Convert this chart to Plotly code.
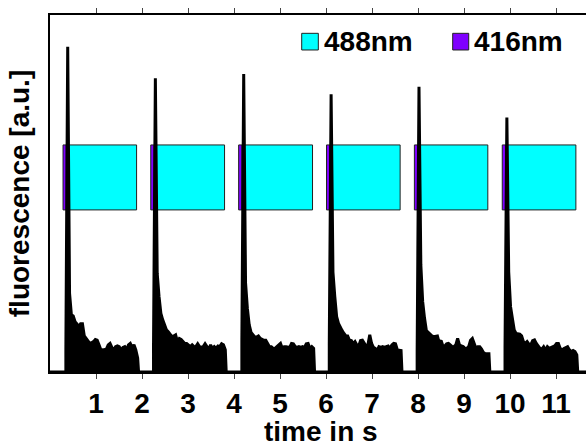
import plotly.graph_objects as go

# Flash timing (s) and peak fluorescence of each 416 nm-induced spike
spike_times = [0.385, 2.29, 4.21, 6.11, 8.02, 9.93]
spike_peaks = [91.1, 82.3, 83.5, 77.8, 79.9, 71.3]
onset_levels = [6.6, 7.6, 8.9, 7.6, 5.7, 7.0]

# Decay envelope after each spike, one value every 40 ms
sample_step = 0.04
decay_1 = [22.0, 16.0, 15.7, 14.1, 13.5, 12.7, 13.5, 13.5, 10.1, 9.4,
           8.5, 8.0, 8.2, 8.5, 9.1, 8.9, 7.6, 6.2, 6.2, 6.2,
           6.4, 7.6, 8.0, 6.9, 6.2, 7.1, 7.3, 7.1, 6.2, 6.9,
           7.1, 6.2, 7.6, 8.0, 6.9, 7.6, 6.2, 3.9]
decay_2 = [27.6, 21.1, 16.4, 14.6, 13.2, 11.8, 11.3, 10.4, 9.9, 10.1,
           10.4, 8.5, 9.4, 9.1, 8.5, 8.0, 8.0, 7.6, 7.1, 7.6,
           7.1, 7.1, 7.9, 7.1, 6.9, 7.1, 7.9, 7.1, 6.2, 7.6,
           6.6, 7.1, 6.6, 7.3, 7.1, 7.9, 7.6, 6.2]
decay_3 = [25.0, 17.8, 13.2, 11.1, 10.4, 9.8, 9.8, 10.1, 9.4, 9.1,
           8.9, 8.9, 8.0, 7.1, 7.1, 6.6, 6.6, 7.1, 7.6, 8.0,
           6.6, 7.1, 7.1, 6.9, 6.9, 8.0, 7.9, 7.1, 6.9, 7.1,
           6.9, 7.1, 6.9, 7.9, 8.0, 6.6, 7.1, 6.6]
decay_4 = [28.0, 21.1, 15.5, 13.6, 12.5, 11.6, 10.8, 10.1, 10.1, 8.9,
           8.8, 7.9, 8.5, 7.6, 7.3, 8.8, 8.9, 8.0, 7.3, 7.6,
           10.4, 8.0, 6.9, 6.6, 6.0, 7.1, 6.9, 7.1, 6.9, 7.1,
           7.3, 6.6, 7.6, 8.0, 7.9, 6.2, 6.0, 6.0]
decay_5 = [30.0, 19.7, 15.1, 11.6, 11.1, 10.6, 10.1, 9.9, 10.1, 10.1,
           8.2, 8.8, 7.3, 7.3, 7.9, 8.0, 7.6, 7.1, 7.1, 7.6,
           9.4, 7.6, 7.3, 7.1, 6.6, 6.6, 7.1, 8.9, 9.4, 7.9,
           6.6, 7.1, 7.1, 6.4, 5.5, 5.1, 5.1, 5.1]
decay_6 = [28.0, 18.3, 15.0, 11.8, 10.8, 10.8, 10.6, 10.1, 8.5, 8.0,
           8.5, 7.8, 7.6, 8.8, 9.0, 8.0, 7.1, 6.6, 6.4, 7.1,
           6.2, 7.1, 6.6, 6.8, 7.1, 7.3, 8.0, 8.0, 6.6, 6.2,
           6.6, 6.9, 7.1, 6.2, 5.7, 6.0, 5.7, 4.8]
decays = [decay_1, decay_2, decay_3, decay_4, decay_5, decay_6]

# Illumination windows (s): 416 nm flash followed by 488 nm readout
violet_on = [0.283, 2.19, 4.10, 6.01, 7.92, 9.83]
violet_off = [0.353, 2.26, 4.17, 6.08, 7.99, 9.90]
cyan_off = [1.882, 3.794, 5.706, 7.61, 9.516, 11.43]
window_bottom = 45.4
window_top = 63.6

x_end = 11.65

# Assemble the recorded trace: baseline, onset, spike, decay, baseline
t_vals = [0.0]
f_vals = [0.0]
for ts, peak, onset, env in zip(spike_times, spike_peaks, onset_levels, decays):
    t_vals += [ts - sample_step, ts - sample_step, ts]
    f_vals += [0.0, onset, peak]
    for k, v in enumerate(env, start=1):
        t_vals.append(ts + k * sample_step)
        f_vals.append(v)
    t_vals.append(ts + len(env) * sample_step + 0.02)
    f_vals.append(0.0)
t_vals.append(x_end)
f_vals.append(0.0)

FONT = "Liberation Sans, Arial"

fig = go.Figure()

fig.add_trace(go.Scatter(
    x=t_vals, y=f_vals, mode="lines",
    line=dict(color="black", width=3),
    fill="tozeroy", fillcolor="black",
    showlegend=False, hoverinfo="skip",
))

shapes = []
for v0, v1, c1 in zip(violet_on, violet_off, cyan_off):
    shapes.append(dict(type="rect", xref="x", yref="y", x0=v1, x1=c1,
                       y0=window_bottom, y1=window_top, layer="below",
                       fillcolor="#00FFFF", line=dict(color="#222222", width=1)))
    shapes.append(dict(type="rect", xref="x", yref="y", x0=v0, x1=v1,
                       y0=window_bottom, y1=window_top, layer="below",
                       fillcolor="#7F00FF", line=dict(color="#222222", width=1)))

# Legend keys for the two illumination wavelengths
legend_items = [("488nm", "#00FFFF", 0.4696, 0.5006),
                ("416nm", "#7F00FF", 0.7513, 0.7812)]
annotations = []
for label, color, kx0, kx1 in legend_items:
    shapes.append(dict(type="rect", xref="paper", yref="paper",
                       x0=kx0, x1=kx1, y0=0.902, y1=0.9487,
                       fillcolor=color, line=dict(color="#222222", width=1)))
    annotations.append(dict(xref="paper", yref="paper", x=kx1 + 0.007, y=0.9258,
                            xanchor="left", yanchor="middle", showarrow=False,
                            text=label,
                            font=dict(family=FONT, size=28, color="black", weight="bold")))

# x-axis title sits just above the bottom edge
annotations.append(dict(xref="paper", yref="paper", x=0.505, y=-0.166,
                        xanchor="center", yanchor="middle", showarrow=False,
                        text="time in s",
                        font=dict(family=FONT, size=28, color="black", weight="bold")))

fig.update_layout(
    width=586, height=443,
    margin=dict(l=50, r=0, t=15, b=71),
    paper_bgcolor="white", plot_bgcolor="white",
    shapes=shapes, annotations=annotations,
    font=dict(family=FONT, color="black"),
    xaxis=dict(
        range=[0, x_end], tickvals=list(range(1, 12)),
        ticks="outside", ticklen=5, tickwidth=1, tickcolor="#444444",
        showline=True, linecolor="black", linewidth=1.5, mirror="ticks",
        showgrid=False, zeroline=False,
        tickfont=dict(size=28, weight="bold"), ticklabelstandoff=1,
    ),
    yaxis=dict(
        range=[0, 100], showticklabels=False, ticks="",
        showline=True, linecolor="black", linewidth=1.5, mirror=False,
        showgrid=False, zeroline=False,
        title=dict(text="fluorescence [a.u.]", font=dict(size=28, weight="bold"), standoff=10),
    ),
)

fig.write_html("out.html")
